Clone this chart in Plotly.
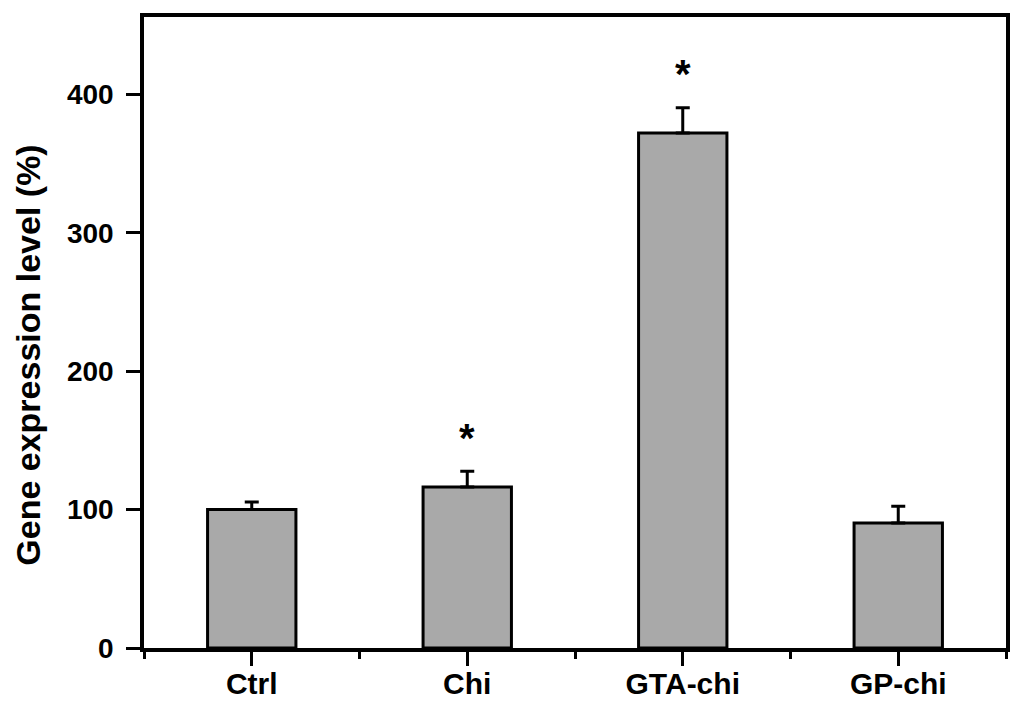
import plotly.graph_objects as go

categories = ["Ctrl", "Chi", "GTA-chi", "GP-chi"]
values = [100.0, 116.3, 372.1, 90.3]
errors = [5.5, 11.4, 18.3, 12.1]
significant = [False, True, True, False]
y_ticks = [0, 100, 200, 300, 400]

FONT = "Liberation Sans, Arial, Helvetica, sans-serif"
x_pos = list(range(len(categories)))

fig = go.Figure()
fig.add_trace(go.Bar(
    x=x_pos, y=values, width=0.41,
    marker=dict(color="#a9a9a9", line=dict(color="black", width=3)),
    error_y=dict(type="data", array=errors, symmetric=False, arrayminus=[0]*len(values),
                 color="black", thickness=3, width=7),
    showlegend=False,
))

for i, (v, e, s) in enumerate(zip(values, errors, significant)):
    if s:
        fig.add_annotation(x=i, y=v + e + 27, text="*", showarrow=False,
                           xanchor="center", yanchor="middle",
                           font=dict(family=FONT, size=40, color="black", weight="bold"),
                           yshift=-4)

fig.add_annotation(xref="paper", yref="paper", x=-0.134, y=0.464,
                   text="Gene expression level (%)", textangle=-90, showarrow=False,
                   xanchor="center", yanchor="middle",
                   font=dict(family=FONT, size=34, color="black", weight="bold"))

fig.update_xaxes(
    range=[-0.5, 3.5], tickmode="array", tickvals=x_pos, ticktext=categories,
    showline=True, linecolor="black", linewidth=3.5, mirror=True,
    ticks="outside", ticklen=14, tickwidth=3, tickcolor="black",
    minor=dict(tickvals=[-0.5, 0.5, 1.5, 2.5, 3.5], ticks="outside", ticklen=7,
               tickwidth=3, tickcolor="black"),
    showgrid=False, zeroline=False, automargin=False,
    ticklabelstandoff=-8,
    tickfont=dict(family=FONT, size=30, color="black", weight="bold"),
)
fig.update_yaxes(
    range=[0, 456], tickmode="array", tickvals=y_ticks,
    showline=True, linecolor="black", linewidth=3.5, mirror=True,
    ticks="outside", ticklen=14, tickwidth=3, tickcolor="black",
    showgrid=False, zeroline=False, automargin=False,
    ticklabelstandoff=7,
    tickfont=dict(family=FONT, size=28, color="black", weight="bold"),
)
fig.update_layout(
    width=1016, height=701,
    margin=dict(l=136, r=18, t=9, b=61),
    plot_bgcolor="white", paper_bgcolor="white",
)
fig.write_html("out.html")
